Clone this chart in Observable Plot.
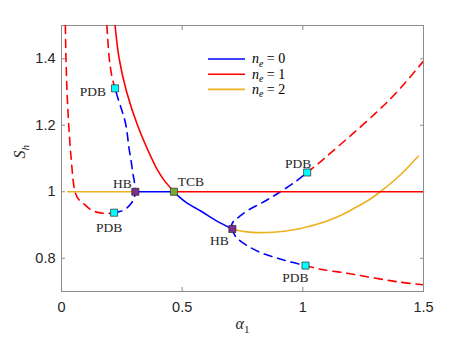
<!DOCTYPE html>
<html><head><meta charset="utf-8">
<script src="https://cdn.jsdelivr.net/npm/d3@7"></script>
<script src="https://cdn.jsdelivr.net/npm/@observablehq/plot@0.6"></script>
<style>body{margin:0;background:#fff}#chart{width:468px;height:337px}</style>
</head><body><div id="chart"></div>
<script>
// ---- tick labels / series ----
const xTicks = [0, 0.5, 1, 1.5];
const yTicks = [0.8, 1, 1.2, 1.4];
const seriesNames = ["n_e = 0", "n_e = 1", "n_e = 2"];
const seriesColors = ["#0000ff", "#ff0000", "#edb120"];

// ---- n_e = 0 (blue) ----
const blueStableFlat = [[0.306, 1.0], [0.466, 1.0]];
const blueStableCurve = [[0.466, 1.0], [0.49, 0.983], [0.522, 0.965], [0.577, 0.942], [0.646, 0.911], [0.708, 0.888]];
const blueUnstableLeft = [[0.218, 0.937], [0.245, 0.941], [0.27, 0.951], [0.29, 0.966], [0.302, 0.984], [0.306, 1.0], [0.303, 1.025], [0.296, 1.055], [0.288, 1.095], [0.28, 1.13], [0.267, 1.2], [0.25, 1.245], [0.235, 1.278], [0.222, 1.311]];
const blueUnstableRightUp = [[0.708, 0.888], [0.705, 0.900], [0.715, 0.913], [0.735, 0.924], [0.77, 0.943], [0.818, 0.962], [0.86, 0.979], [0.907, 1.0], [0.969, 1.03], [1.018, 1.058]];
const blueUnstableRightDown = [[0.708, 0.888], [0.716, 0.872], [0.728, 0.860], [0.776, 0.835], [0.832, 0.815], [0.887, 0.802], [0.942, 0.790], [1.011, 0.778]];

// ---- n_e = 1 (red) ----
const redUnstableFarLeft = [[0.016, 1.5], [0.0186, 1.4], [0.023, 1.3], [0.030, 1.2], [0.040, 1.1], [0.056, 1.0], [0.07, 0.978], [0.094, 0.963], [0.12, 0.947], [0.15, 0.938], [0.177, 0.935], [0.20, 0.935], [0.218, 0.937]];
const redUnstableMid = [[0.188, 1.5], [0.198, 1.4], [0.208, 1.35], [0.216, 1.326], [0.222, 1.311]];
const redStableCurve = [[0.222, 1.5], [0.239, 1.4], [0.27, 1.3], [0.315, 1.2], [0.377, 1.095], [0.398, 1.065], [0.425, 1.035], [0.466, 1.0]];
const redStableFlat = [[0.466, 1.0], [1.5, 1.0]];
const redUnstableRightUp = [[1.018, 1.058], [1.066, 1.086], [1.114, 1.116], [1.2, 1.17], [1.307, 1.24], [1.39, 1.30], [1.5, 1.393]];
const redUnstableRightDown = [[1.011, 0.778], [1.073, 0.767], [1.183, 0.755], [1.293, 0.741], [1.403, 0.728], [1.5, 0.72]];

// ---- n_e = 2 (yellow) ----
const yellowFlat = [[0.026, 1.0], [0.306, 1.0]];
const yellowCurve = [[0.708, 0.888], [0.76, 0.880], [0.818, 0.877], [0.89, 0.879], [0.956, 0.885], [1.02, 0.895], [1.093, 0.91], [1.16, 0.93], [1.224, 0.955], [1.275, 0.976], [1.321, 1.0], [1.4, 1.048], [1.478, 1.107]];

// ---- bifurcation points ----
const pdbPoints = [[0.222, 1.311], [0.218, 0.937], [1.018, 1.058], [1.011, 0.778]];
const hbPoints = [[0.306, 1.0], [0.708, 0.888]];
const tcbPoints = [[0.466, 1.0]];

const X = d => d[0], Y = d => d[1];
const solid = (data, color) => Plot.line(data, {x: X, y: Y, stroke: color, strokeWidth: 1.6, curve: "catmull-rom", clip: true});
const dashed = (data, color) => Plot.line(data, {x: X, y: Y, stroke: color, strokeWidth: 1.6, strokeDasharray: "8,6", curve: "catmull-rom", clip: true});
const markers = (data, color) => Plot.dot(data, {x: X, y: Y, symbol: "square", r: 4, fill: color, stroke: "#2a2a2a", strokeWidth: 0.7});
const serif = "'Liberation Serif', 'Times New Roman', serif";
const lbl = (pt, text, opts) => Plot.text([pt], {x: X, y: Y, text: () => text, fontFamily: serif, fontSize: 13.5, fill: "#262626", ...opts});

const axisColor = "#8c8c8c";
const tickFmt = d => String(d);
const [B, R, Yl] = seriesColors;

const plot = Plot.plot({
  width: 468, height: 337,
  marginLeft: 61, marginRight: 45, marginTop: 25, marginBottom: 46,
  style: {background: "#fff", fontFamily: "'Liberation Sans', Arial, sans-serif", overflow: "visible"},
  x: {domain: [0, 1.5]},
  y: {domain: [0.7, 1.5]},
  marks: [
    Plot.frame({stroke: axisColor}),
    Plot.axisX(xTicks, {anchor: "bottom", tickSize: 0, tickPadding: 10, fontSize: 14.5, fill: "#262626", tickFormat: tickFmt, label: null}),
    Plot.axisX(xTicks, {anchor: "bottom", tickSize: -4, stroke: axisColor, fill: "none", label: null}),
    Plot.axisX(xTicks, {anchor: "top", tickSize: -4, stroke: axisColor, fill: "none", label: null}),
    Plot.axisY(yTicks, {anchor: "left", tickSize: 0, tickPadding: 6, fontSize: 14.5, fill: "#262626", tickFormat: tickFmt, label: null}),
    Plot.axisY(yTicks, {anchor: "left", tickSize: -4, stroke: axisColor, fill: "none", label: null}),
    Plot.axisY(yTicks, {anchor: "right", tickSize: -4, stroke: axisColor, fill: "none", label: null}),
    // axis titles
    Plot.text(["S_h"], {frameAnchor: "left", dx: -42, rotate: -90, fontFamily: serif, fontSize: 16, fill: "#262626"}),
    Plot.text(["α_1"], {frameAnchor: "bottom", dy: 37, fontFamily: serif, fontSize: 16, fill: "#262626"}),
    // curves
    solid(yellowFlat, Yl), solid(yellowCurve, Yl),
    solid(blueStableFlat, B), solid(blueStableCurve, B),
    dashed(blueUnstableLeft, B), dashed(blueUnstableRightUp, B), dashed(blueUnstableRightDown, B),
    dashed(redUnstableFarLeft, R), dashed(redUnstableMid, R),
    solid(redStableCurve, R), solid(redStableFlat, R),
    dashed(redUnstableRightUp, R), dashed(redUnstableRightDown, R),
    // markers
    markers(pdbPoints, "#00ffff"),
    markers(hbPoints, "#7e2f8e"),
    markers(tcbPoints, "#77ac30"),
    // marker labels
    lbl(pdbPoints[0], "PDB", {textAnchor: "end", dx: -9, dy: 3}),
    lbl(pdbPoints[1], "PDB", {dx: -5, dy: 15}),
    lbl(pdbPoints[2], "PDB", {dx: -9, dy: -9}),
    lbl(pdbPoints[3], "PDB", {dx: -10, dy: 12}),
    lbl(hbPoints[0], "HB", {dx: -13, dy: -8}),
    lbl(hbPoints[1], "HB", {dx: -13, dy: 12}),
    lbl(tcbPoints[0], "TCB", {dx: 17, dy: -10})
  ]
});

document.getElementById("chart").appendChild(plot);
const svg = d3.select(plot);

// legend (no box)
const lg = svg.append("g").attr("font-family", serif).attr("font-size", 14).attr("fill", "#000").attr("text-anchor", "start");
seriesNames.forEach((name, i) => {
  const yy = 59 + i * 15.2;
  lg.append("line").attr("x1", 208).attr("x2", 245).attr("y1", yy).attr("y2", yy)
    .attr("stroke", seriesColors[i]).attr("stroke-width", 1.6);
  lg.append("text").attr("x", 252).attr("y", yy).attr("dy", "0.32em").attr("text-anchor", "start").attr("font-size", 14).text(name);
});

// subscripts: "base_sub rest"
svg.selectAll("text").each(function () {
  const t = this.textContent;
  const m = /^(.+?)_(\S)(.*)$/.exec(t);
  if (!m) return;
  const fs = parseFloat(d3.select(this).attr("font-size") || getComputedStyle(this).fontSize) || 13.5;
  const el = d3.select(this);
  el.text(null);
  el.append("tspan").attr("font-style", "italic").text(m[1]);
  const subItalic = /[a-z]/i.test(m[2]);
  el.append("tspan").attr("font-style", subItalic ? "italic" : "normal").attr("font-size", fs * 0.7).attr("dy", fs * 0.25).text(m[2]);
  if (m[3]) el.append("tspan").attr("font-style", "normal").attr("dy", -fs * 0.25).text(m[3]);
});
</script>
</body></html>
